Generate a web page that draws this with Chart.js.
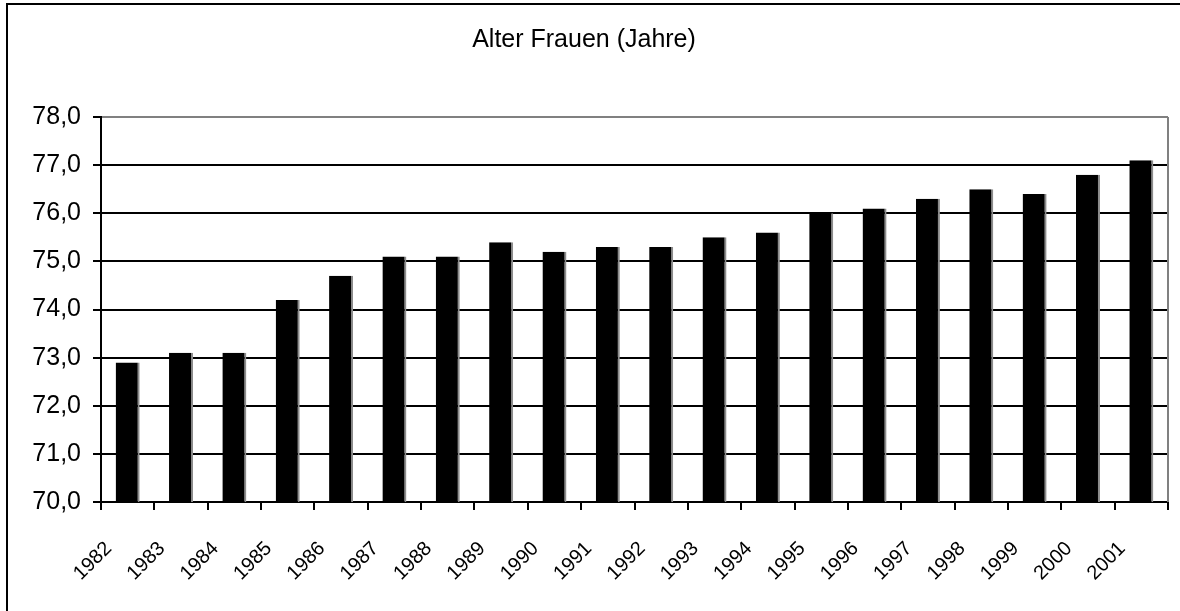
<!DOCTYPE html>
<html>
<head>
<meta charset="utf-8">
<script src="https://cdn.jsdelivr.net/npm/chart.js@4/dist/chart.umd.min.js"></script>
<style>
  html, body { margin: 0; padding: 0; background: #fff; }
  #wrap { position: relative; width: 1180px; height: 611px; }
</style>
</head>
<body>
<div id="wrap"><canvas id="c" width="1180" height="611"></canvas></div>
<script>
const titleText = 'Alter Frauen (Jahre)';
const years = ['1982','1983','1984','1985','1986','1987','1988','1989','1990','1991','1992','1993','1994','1995','1996','1997','1998','1999','2000','2001'];
const ageWomen = [72.9, 73.1, 73.1, 74.2, 74.7, 75.1, 75.1, 75.4, 75.2, 75.3, 75.3, 75.5, 75.6, 76.0, 76.1, 76.3, 76.5, 76.4, 76.8, 77.1];
const yMin = 70;
const yMax = 78;
const yTickLabels = ['70,0','71,0','72,0','73,0','74,0','75,0','76,0','77,0','78,0'];

const FONT = "'Liberation Sans', Arial, sans-serif";

const framePlugin = {
  id: 'frame',
  afterDraw(chart) {
    const ctx = chart.ctx;
    const a = chart.chartArea;
    ctx.save();
    // grey right border of plot area
    ctx.strokeStyle = '#808080';
    ctx.lineWidth = 2;
    ctx.beginPath();
    ctx.moveTo(a.right, a.top);
    ctx.lineTo(a.right, a.bottom);
    ctx.stroke();
    // outer frame (top + left)
    ctx.strokeStyle = '#000';
    ctx.lineWidth = 2;
    ctx.beginPath();
    ctx.moveTo(7, 611);
    ctx.lineTo(7, 4);
    ctx.lineTo(1180, 4);
    ctx.stroke();
    ctx.restore();
  }
};

new Chart(document.getElementById('c'), {
  type: 'bar',
  data: {
    labels: years,
    datasets: [{
      data: ageWomen,
      backgroundColor: '#000000',
      borderColor: '#8c8c8c',
      borderWidth: { left: 0, top: 0, bottom: 0, right: 2 },
      borderSkipped: false,
      categoryPercentage: 1.0,
      barPercentage: 0.45
    }]
  },
  options: {
    responsive: false,
    animation: false,
    devicePixelRatio: 1,
    layout: { padding: { top: 4, left: 0, right: 12, bottom: 0 } },
    plugins: {
      legend: { display: false },
      tooltip: { enabled: false },
      title: {
        display: true,
        text: titleText,
        color: '#000',
        font: { family: FONT, size: 25, weight: 'normal', lineHeight: 1.2 },
        padding: { top: 21, bottom: 62 }
      }
    },
    scales: {
      x: {
        offset: true,
        grid: {
          offset: true,
          drawOnChartArea: false,
          drawTicks: true,
          tickLength: 8,
          color: '#000',
          tickColor: '#000',
          lineWidth: 2
        },
        border: { display: true, color: '#000', width: 2 },
        ticks: {
          color: '#000',
          font: { family: FONT, size: 20 },
          minRotation: 45,
          maxRotation: 45,
          autoSkip: false,
          padding: 27,
          labelOffset: -19
        },
        afterFit(scale) {
          scale.height = 109;
          scale.paddingLeft = 0;
          scale.paddingRight = 0;
        }
      },
      y: {
        min: yMin,
        max: yMax,
        ticks: {
          stepSize: 1,
          color: '#000',
          font: { family: FONT, size: 25 },
          padding: 12,
          callback: (v) => yTickLabels[Math.round(v - yMin)]
        },
        grid: {
          color: (ctx) => (ctx.tick && ctx.tick.value === yMax) ? '#808080' : '#000',
          tickColor: '#000',
          lineWidth: 2,
          tickLength: 8
        },
        border: { display: true, color: '#000', width: 2 },
        afterFit(scale) { scale.width = 101; }
      }
    }
  },
  plugins: [framePlugin]
});
</script>
</body>
</html>
